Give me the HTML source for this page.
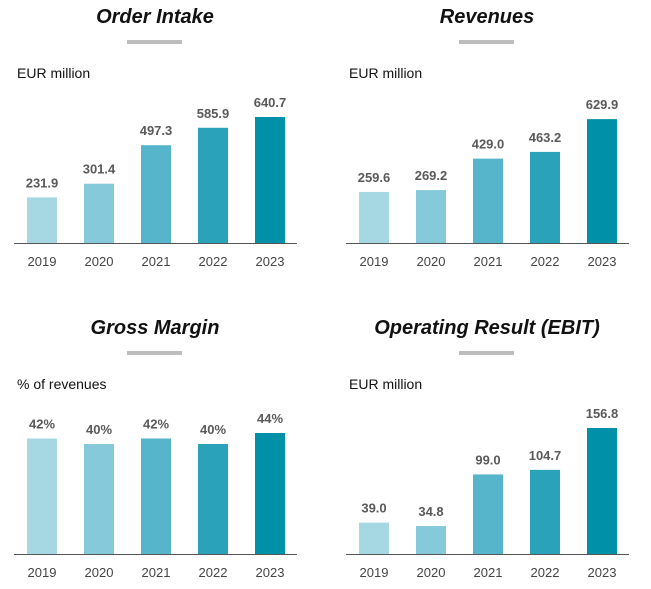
<!DOCTYPE html>
<html><head><meta charset="utf-8"><style>
body{margin:0;background:#fff;width:651px;height:584px;overflow:hidden}
svg text{font-family:"Liberation Sans",Arial,sans-serif}
</style></head><body>
<svg id="c" width="651" height="584"></svg>
<script>
const years = ["2019","2020","2021","2022","2023"];
const orderIntake = [231.9, 301.4, 497.3, 585.9, 640.7];
const revenues = [259.6, 269.2, 429.0, 463.2, 629.9];
const grossMargin = [42, 40, 42, 40, 44];
const ebit = [39.0, 34.8, 99.0, 104.7, 156.8];
const orderLabels = ["231.9","301.4","497.3","585.9","640.7"];
const revenueLabels = ["259.6","269.2","429.0","463.2","629.9"];
const marginLabels = ["42%","40%","42%","40%","44%"];
const ebitLabels = ["39.0","34.8","99.0","104.7","156.8"];

const colors = ["#a6d8e3","#86c9da","#56b5ca","#2aa3ba","#0090a8"];
const NS = "http://www.w3.org/2000/svg";
const svg = document.getElementById("c");
function mk(tag, attrs, parent){
  const e = document.createElementNS(NS, tag);
  for (const k in attrs) e.setAttribute(k, attrs[k]);
  (parent||svg).appendChild(e);
  return e;
}
function panel(key, ox, oy, title, sub, values, labels, pxPerUnit){
  const g = mk("g", {});
  
  
  const cx = ox + 155;
  const t = mk("text", {x: cx, y: oy + 23, "text-anchor": "middle", "font-size": 20, "font-weight": "bold", "font-style": "italic", fill: "#111"}, g);
  t.textContent = title;
  
  
  const u = mk("rect", {x: ox + 127, y: oy + 40, width: 55, height: 4, fill: "#bdbdbd"}, g);
  
  
  const s = mk("text", {x: ox + 17, y: oy + 78, "font-size": 14, fill: "#111"}, g);
  s.textContent = sub;
  
  
  const axisY = oy + 243;
  const xPos = i => ox + 27 + i * 57;
  values.forEach((v, i) => {
    const h = v * pxPerUnit;
    const r = mk("rect", {x: xPos(i), y: axisY - h, width: 30, height: h, fill: colors[i]}, g);
    
    
    const l = mk("text", {x: xPos(i) + 15, y: axisY - h - 10, "text-anchor": "middle", "font-size": 13, "font-weight": "bold", fill: "#595959"}, g);
    l.textContent = labels[i];
    
    
    const yl = mk("text", {x: xPos(i) + 15, y: axisY + 23, "text-anchor": "middle", "font-size": 13, fill: "#444"}, g);
    yl.textContent = years[i];
    
    
  });
  const a = mk("line", {x1: ox + 14, x2: ox + 297, y1: axisY + 0.5, y2: axisY + 0.5, stroke: "#555", "stroke-width": 1}, g);
  
  
}
panel("order-intake", 0, 0, "Order Intake", "EUR million", orderIntake, orderLabels, 126/640.7);
panel("revenues", 332, 0, "Revenues", "EUR million", revenues, revenueLabels, 126/640.7);
panel("gross-margin", 0, 311, "Gross Margin", "% of revenues", grossMargin, marginLabels, 121/44);
panel("ebit", 332, 311, "Operating Result (EBIT)", "EUR million", ebit, ebitLabels, 126/156.8);
</script>
</body></html>
